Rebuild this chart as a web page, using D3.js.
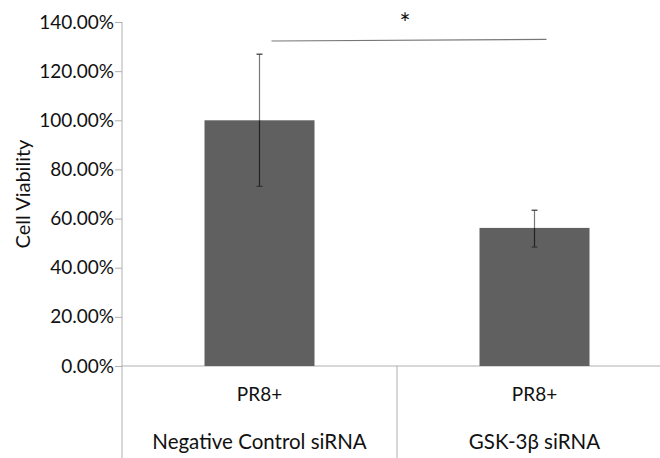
<!DOCTYPE html>
<html><head><meta charset="utf-8">
<script src="https://cdn.jsdelivr.net/npm/d3@7"></script>
<style>body{margin:0;background:#fff}svg{display:block}text{font-family:Lato,"Open Sans",sans-serif;fill:#111}</style>
</head><body><svg id="c" width="660" height="458"></svg>
<script>
const groups = ["Negative Control siRNA", "GSK-3β siRNA"];
const subLabels = ["PR8+", "PR8+"];
const values = [1.00, 0.562];
const errLow = [0.731, 0.484];
const errHigh = [1.269, 0.634];
const yTicks = [0, 0.2, 0.4, 0.6, 0.8, 1.0, 1.2, 1.4];

(function () {
const svg = d3.select("#c");
const mLeft = 122, mRight = 672, mTop = 22, mBottom = 366;
const x = d3.scaleBand().domain(groups).range([mLeft, mRight]).paddingInner(0).paddingOuter(0);
const y = d3.scaleLinear().domain([0, 1.4]).range([mBottom, mTop]);
const barW = x.bandwidth() * 0.4;

const axisColor = "#b0b0b0";
const yAxis = d3.axisLeft(y).tickValues(yTicks).tickSize(7).tickPadding(1).tickFormat(d3.format(".2%"));
const gy = svg.append("g").attr("transform", `translate(${mLeft},0)`).call(yAxis);
gy.select(".domain").remove();
gy.selectAll(".tick line").attr("stroke", axisColor);
gy.selectAll(".tick text").attr("font-size", 19).attr("font-family", "Lato").attr("fill", "#111");
svg.append("line").attr("x1", mLeft).attr("x2", mLeft).attr("y1", mTop).attr("y2", 458).attr("stroke", axisColor);
svg.append("line").attr("x1", mLeft).attr("x2", 660).attr("y1", mBottom).attr("y2", mBottom).attr("stroke", axisColor);
groups.forEach((g, i) => {
  if (i > 0) svg.append("line").attr("x1", x(g)).attr("x2", x(g)).attr("y1", mBottom).attr("y2", 458).attr("stroke", axisColor);
});

svg.selectAll("rect.bar").data(values).enter().append("rect")
  .attr("x", (d, i) => x(groups[i]) + x.bandwidth() / 2 - barW / 2)
  .attr("width", barW)
  .attr("y", d => y(d))
  .attr("height", d => mBottom - y(d))
  .attr("fill", "#606060");

values.forEach((v, i) => {
  const cx = x(groups[i]) + x.bandwidth() / 2;
  svg.append("line").attr("x1", cx).attr("x2", cx).attr("y1", y(errHigh[i])).attr("y2", y(v)).attr("stroke", "#777").attr("stroke-width", 1.2);
  svg.append("line").attr("x1", cx).attr("x2", cx).attr("y1", y(v)).attr("y2", y(errLow[i])).attr("stroke", "#222").attr("stroke-width", 1.2);
  [errHigh[i], errLow[i]].forEach(e => {
    svg.append("line").attr("x1", cx - 3).attr("x2", cx + 3).attr("y1", y(e)).attr("y2", y(e)).attr("stroke", "#333").attr("stroke-width", 1.2);
  });
});

groups.forEach((g, i) => {
  const cx = x(g) + x.bandwidth() / 2;
  svg.append("text").attr("x", cx).attr("y", 401).attr("text-anchor", "middle").attr("font-size", 19).text(subLabels[i]);
  svg.append("text").attr("x", cx).attr("y", 449).attr("text-anchor", "middle").attr("font-size", 20.5).text(g);
});

svg.append("text").attr("transform", "translate(30,194) rotate(-90)").attr("text-anchor", "middle").attr("font-size", 20).text("Cell Viability");

const c0 = x(groups[0]) + x.bandwidth() / 2, c1 = x(groups[1]) + x.bandwidth() / 2;
svg.append("line").attr("x1", c0 + 12).attr("x2", c1 + 12).attr("y1", 41).attr("y2", 39.3).attr("stroke", "#777").attr("stroke-width", 1.2);
svg.append("text").attr("x", 405).attr("y", 33).attr("text-anchor", "middle").attr("font-size", 26).text("*");
})();
</script></body></html>
